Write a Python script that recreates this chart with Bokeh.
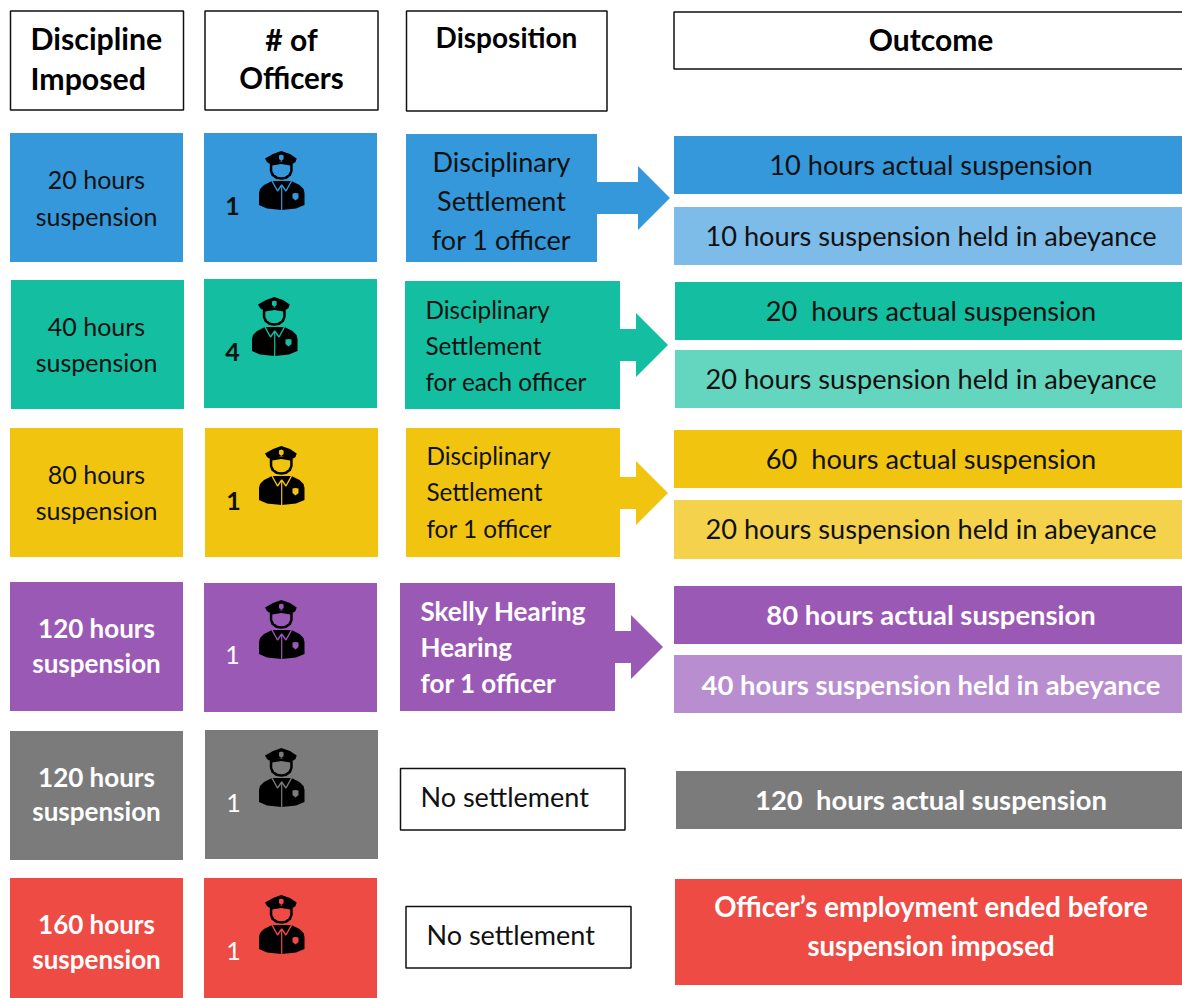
from bokeh.plotting import figure
from bokeh.embed import file_html
from bokeh.resources import INLINE
from bokeh.models import Range1d
from bokeh.core.properties import value

# ---- content ----
headers = [["Discipline", "Imposed"], ["# of", "Officers"], ["Disposition"], ["Outcome"]]
discipline = [["20 hours", "suspension"], ["40 hours", "suspension"], ["80 hours", "suspension"],
              ["120 hours", "suspension"], ["120 hours", "suspension"], ["160 hours", "suspension"]]
officers = ["1", "4", "1", "1", "1", "1"]
disposition = [["Disciplinary", "Settlement", "for 1 officer"],
               ["Disciplinary", "Settlement", "for each officer"],
               ["Disciplinary", "Settlement", "for 1 officer"],
               ["Skelly Hearing", "Hearing", "for 1 officer"],
               ["No settlement"], ["No settlement"]]
actual = ["10 hours actual suspension", "20 \u00a0hours actual suspension", "60 \u00a0hours actual suspension",
          "80 hours actual suspension", "120 \u00a0hours actual suspension", None]
abeyance = ["10 hours suspension held in abeyance", "20 hours suspension held in abeyance",
            "20 hours suspension held in abeyance", "40 hours suspension held in abeyance", None, None]
ended = ["Officer\u2019s employment ended before", "suspension imposed"]
main_colors = ["#3498DB", "#13BFA0", "#F1C40F", "#9B59B6", "#7B7B7B", "#EE4B44"]
light_colors = ["#7DBBE8", "#64D5BF", "#F4D24B", "#B98ED0", None, None]

# ---- layout (page pixels) ----
W, H = 1182, 998
col1 = [(10,183,133,262),(11,184,280,409),(10,183,428,557),(10,183,582,711),(10,183,731,860),(10,183,878,1000)]
col2 = [(204,377,133,262),(204,377,279,408),(205,378,428,557),(204,377,583,712),(205,378,730,859),(204,377,878,1000)]
col3 = [(406,597,134,262),(405,620,281,409),(406,620,428,557),(400,615,583,711),(400.5,625,768.5,830),(406,631,906.5,968)]
out1 = [(674,1190,136,194),(675,1190,282,340),(674,1190,430,488),(674,1190,586,644),(676,1190,771,829),(675,1190,879,985)]
out2 = [(674,1190,207,265),(675,1190,350,408),(674,1190,500,559),(674,1190,655,713)]
head_boxes = [(10.5,183.5,11,110),(205,378,11,110),(406.5,607,11,111),(674,1195,12,69)]
arrows = [(597,638,670,198),(620,636,668,345),(620,636,668,493),(615,631,663,647)]
icon_at = [(259,151),(252,297),(259,446),(259,600),(259,748),(259,895)]
count_at = [(232,205),(232,351),(233,500),(232,654),(233,802),(233,950)]
col1_y = [(178,215),(325,361),(473,509),(627,662),(776,810),(923,958)]
disp_at = [(501,[161,200,239],"center"),(425,[309,345,381],"left"),(426,[455,491,528],"left"),
           (420,[610,646,682],"left"),(420,[796],"left"),(426,[934],"left")]
disp_size = [27, 24.3, 24.3, 26]
out_y1 = [164.5,310.5,458.5,614.5,799.5]
out_y2 = [235.5,378.5,528.5,684.5]

p = figure(width=W, height=H, x_range=Range1d(0.5, W + 0.5), y_range=Range1d(H + 0.5, 0.5),
           output_backend="svg", toolbar_location=None, min_border=0,
           outline_line_color=None, background_fill_color="white", border_fill_color="white")
p.axis.visible = False
p.grid.visible = False

def box(b, fill, line=None, lw=1.5):
    p.quad(left=b[0], right=b[1], top=b[2], bottom=b[3], fill_color=fill,
           line_color=line, line_width=lw)

def label(x, y, s, size, color="#111111", font="Lato", bold=False, align="center"):
    p.text(x=[x], y=[y], text=[s], text_font=value(font), text_font_size=f"{size}px",
           text_font_style="bold" if bold else "normal", text_color=color,
           text_align=align, text_baseline="middle")

# icon geometry in local pixels
hat = [(22.3,0),(14,3),(6,7.5),(8,11),(10,12.5),(22.3,10.5),(34.5,12.5),(36.5,11),(37.7,7.5),(31,3)]
head = [(10.8,11),(10.8,20),(12.5,24.5),(17,28),(22.3,28.7),(27.5,28),(32,24.5),(33.7,20),(33.7,11)]
face = [(13.3,14.5),(22.3,13),(31.2,14.5),(31.2,20),(29.5,23.3),(26,25.8),(22.3,26.3),(18.5,25.8),(15,23.3),(13.3,20)]
body = [(13,30),(5,34),(1,38),(0,42),(0,54),(8,57.5),(22.7,59),(37,57.5),(45.5,54),(45.5,42),(44.5,38),(40.5,34),(32.5,30)]
hat_badge = [(20,4.5),(22.3,3.5),(24.6,4.5),(24.6,8),(22.3,10),(20,8)]
chest_badge = [(33.5,42.5),(36.5,42),(39.5,42.5),(39.5,47),(36.5,49.5),(33.5,47)]
collar_x = [13,18.5,22.7,27,32.5]
collar_y = [30,40,34,40,30]

def icon(ox, oy, c):
    def shape(pts, fill):
        p.patch([ox+a for a, _ in pts], [oy+b for _, b in pts], fill_color=fill, line_color=None)
    shape(body, "#000000")
    p.line([ox+a for a in collar_x], [oy+b for b in collar_y], line_color=c, line_width=1.4)
    p.line([ox+22.7, ox+22.7], [oy+35, oy+59], line_color=c, line_width=1.2)
    shape(chest_badge, c)
    shape(head, "#000000")
    shape(face, c)
    shape(hat, "#000000")
    shape(hat_badge, c)

# headers
for b in head_boxes:
    box(b, "white", "#111111")
label(30.5, 37.5, headers[0][0], 30.3, "black", "Lato", True, "left")
label(30.5, 77.5, headers[0][1], 30.3, "black", "Lato", True, "left")
label(291.5, 38.5, headers[1][0], 30, "black", "Lato", True)
label(291.5, 77.5, headers[1][1], 29.5, "black", "Lato", True)
label(506.5, 36.5, headers[2][0], 28, "black", "Lato", True)
label(931, 38.5, headers[3][0], 30, "black", "Lato", True)

for i, c in enumerate(main_colors):
    white = i >= 3
    tc = "white" if white else "#111111"
    fs = 26 if white else 25
    box(col1[i], c)
    box(col2[i], c)
    label(96.5, col1_y[i][0] + 0.5, discipline[i][0], fs, tc, "Lato", white)
    label(96.5, col1_y[i][1] + 0.5, discipline[i][1], fs, tc, "Lato", white)
    icon(icon_at[i][0], icon_at[i][1], c)
    label(count_at[i][0] + 0.5, count_at[i][1] + 0.5, officers[i], 25, tc, "Lato", not white)

    # disposition
    x, ys, al = disp_at[i]
    if i < 4:
        box(col3[i], c)
        x0, x1, x2, ym = arrows[i]
        p.patch([x0, x1, x1, x2, x1, x1, x0],
                [ym-16, ym-16, ym-32, ym, ym+32, ym+16, ym+16], fill_color=c, line_color=None)
    else:
        box(col3[i], "white", "#111111")
    for s, y in zip(disposition[i], ys):
        if i < 4:
            label(x + 0.5, y + 0.5, s, disp_size[i], tc, "Lato", i == 3, al)
        else:
            label(x + 0.5, y + 0.5, s, 27, "#111111", "Lato", False, al)

    # outcome
    box(out1[i], c)
    os_ = 27.4 if white else 27.2
    if actual[i]:
        label(931, out_y1[i], actual[i], os_, tc, "Lato", white)
    if abeyance[i]:
        box(out2[i], light_colors[i])
        label(931, out_y2[i], abeyance[i], os_, tc, "Lato", white)

label(931, 906.5, ended[0], 27.6, "white", "Lato", True)
label(931, 945.5, ended[1], 27.6, "white", "Lato", True)

open("out.html", "w").write(file_html(p, INLINE))
